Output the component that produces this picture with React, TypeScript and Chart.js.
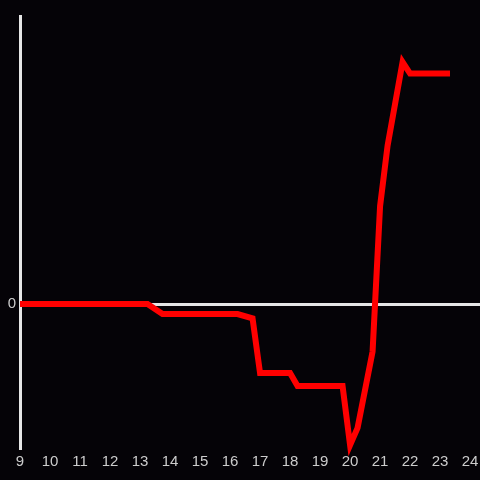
import React, { useEffect, useRef } from "react";
import { Chart, registerables } from "chart.js";

Chart.register(...registerables);

const hours = [9, 13.25, 13.75, 16.25, 16.75, 17, 18, 18.25, 19.75, 20, 20.25, 20.75, 21, 21.25, 21.75, 22, 23.33];
const values = [0, 0, -3.5, -3.5, -5, -24, -24, -28.5, -28.5, -49, -43, -16.5, 34, 55, 84, 80, 80];
const yTicks = [0];

export default function App() {
  const ref = useRef<HTMLCanvasElement | null>(null);
  useEffect(() => {
    document.body.style.margin = "0";
    document.body.style.background = "#050307";
    const ctx = ref.current!;
    const chart = new Chart(ctx, {
      type: "line",
      data: {
        datasets: [
          {
            data: hours.map((h, i) => ({ x: h, y: values[i] })),
            borderColor: "#ff0000",
            borderWidth: 6,
            pointRadius: 0,
            tension: 0,
            fill: false,
            clip: false as any,
            borderJoinStyle: "miter",
          },
        ],
      },
      options: {
        animation: false,
        responsive: false,
        layout: { padding: { top: 16, right: 0, left: 0, bottom: 0 } },
        plugins: { legend: { display: false }, tooltip: { enabled: false } },
        scales: {
          x: {
            type: "linear",
            min: 9,
            max: 24.33,
            grid: { display: false, drawTicks: false },
            border: { display: false },
            ticks: {
              stepSize: 1,
              includeBounds: false,
              color: "#cccccc",
              font: { family: "Liberation Sans, Arial, sans-serif", size: 15 },
              padding: 5,
              maxRotation: 0,
              autoSkip: false,
            },
            afterFit: (s: any) => {
              s.height = 32;
              s.paddingLeft = 0;
              s.paddingRight = 0;
            },
          },
          y: {
            type: "linear",
            min: -50,
            max: 100,
            afterBuildTicks: (s: any) => {
              s.ticks = yTicks.map((v) => ({ value: v }));
            },
            grid: {
              drawTicks: false,
              color: (c: any) => (c.tick && c.tick.value === 0 ? "#e6e6e6" : "transparent"),
              lineWidth: 3,
            },
            border: { display: true, color: "#e6e6e6", width: 3 },
            ticks: {
              color: "#cccccc",
              font: { family: "Liberation Sans, Arial, sans-serif", size: 15 },
              padding: 4,
            },
            afterFit: (s: any) => {
              s.width = 20;
              s.paddingTop = 0;
              s.paddingBottom = 0;
            },
          },
        },
      },
    });
    return () => chart.destroy();
  }, []);
  return (
    <div style={{ width: 480, height: 480, background: "#050307" }}>
      <canvas ref={ref} width={480} height={480} style={{ display: "block" }} />
    </div>
  );
}
